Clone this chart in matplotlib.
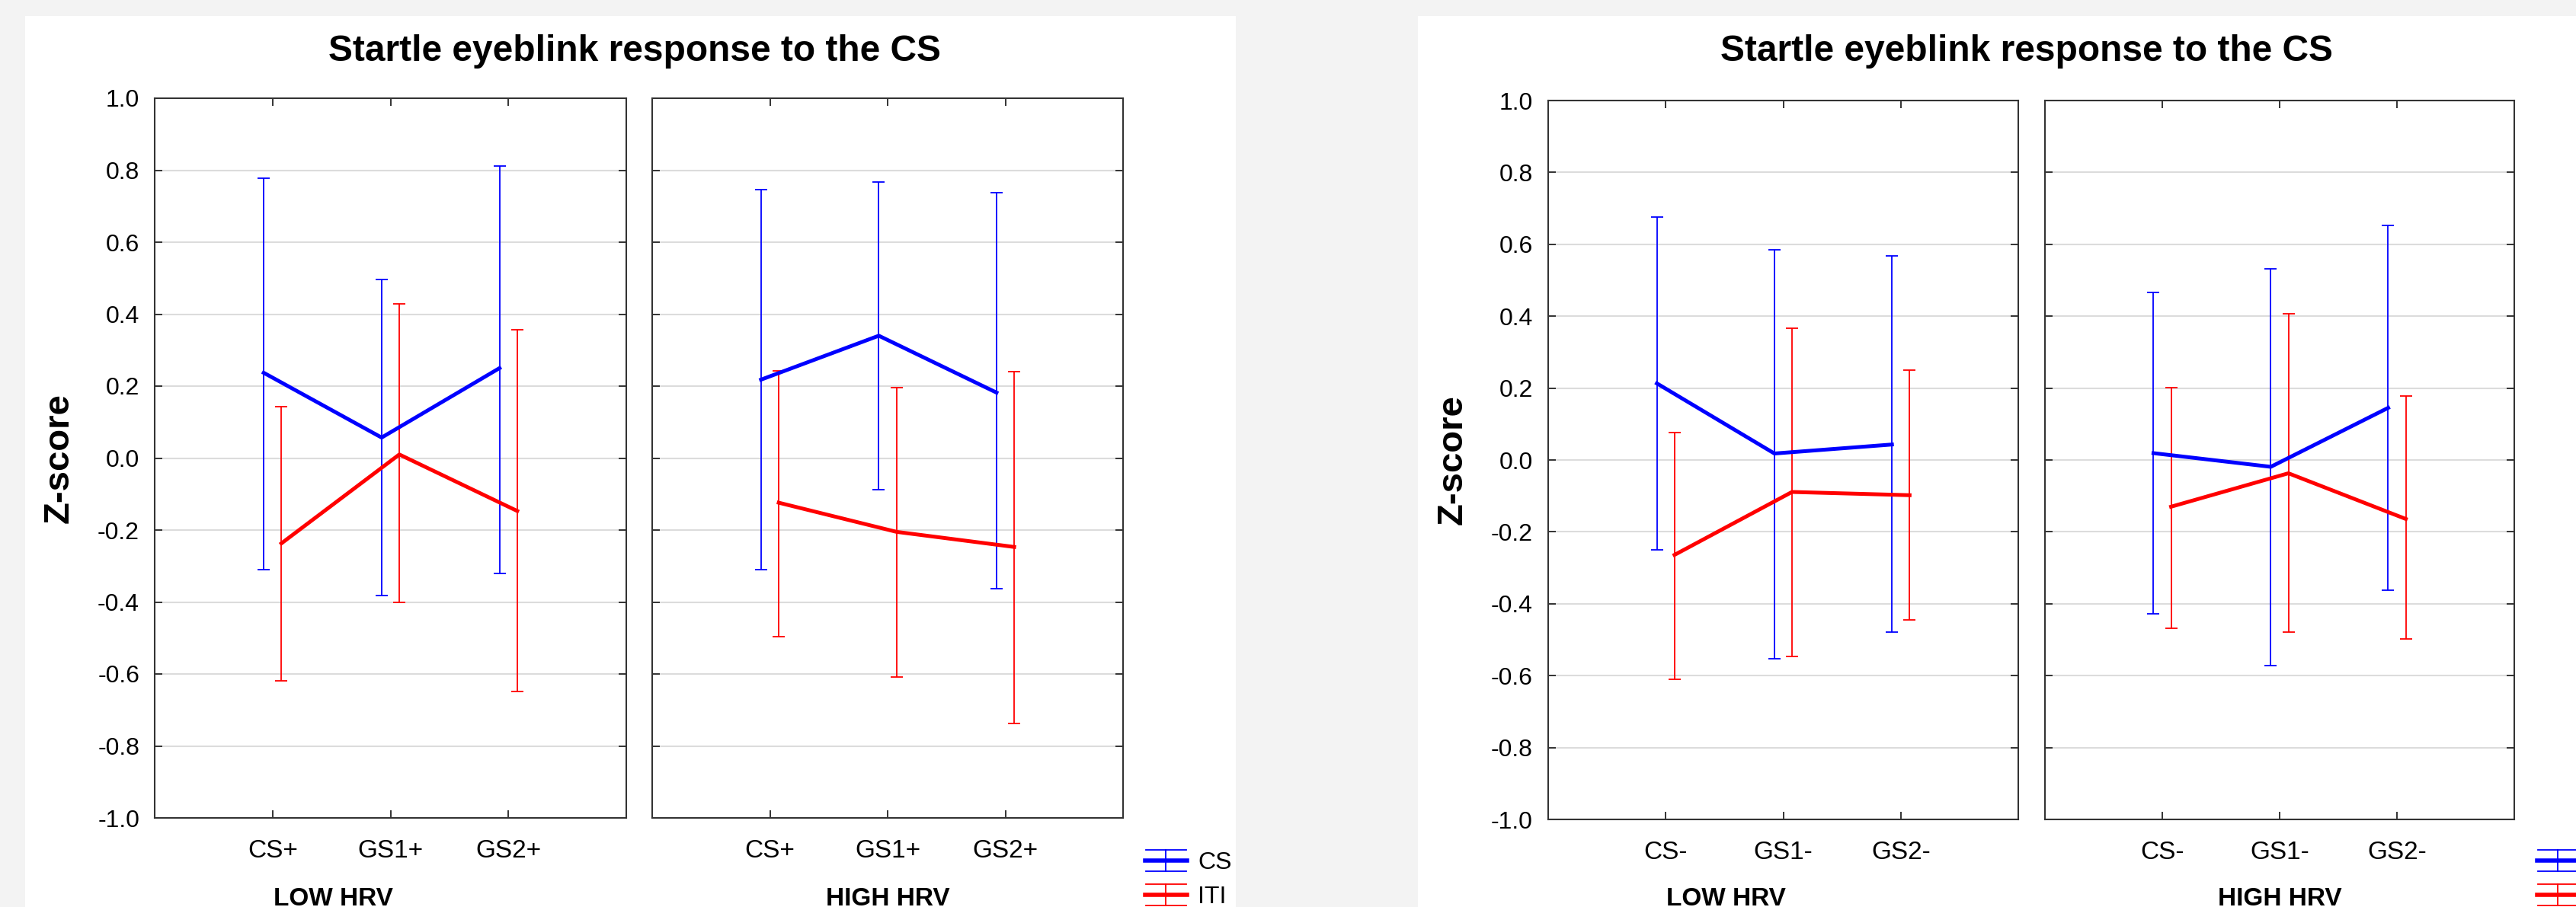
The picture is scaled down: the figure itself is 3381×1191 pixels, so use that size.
import numpy as np
import matplotlib
matplotlib.use("Agg")
import matplotlib.pyplot as plt
from matplotlib.lines import Line2D
from matplotlib.patches import Rectangle
from matplotlib.legend_handler import HandlerBase
from matplotlib.ticker import FormatStrFormatter

plt.rcParams['font.family'] = ['Liberation Sans', 'DejaVu Sans']
plt.rcParams['axes.unicode_minus'] = False

title = "Startle eyeblink response to the CS"
groups = ["LOW HRV", "HIGH HRV"]
series = ["CS", "ITI"]
cats_plus = ["CS+", "GS1+", "GS2+"]
cats_minus = ["CS-", "GS1-", "GS2-"]
y_ticks = [-1.0, -0.8, -0.6, -0.4, -0.2, 0.0, 0.2, 0.4, 0.6, 0.8, 1.0]

# rows = LOW HRV, HIGH HRV ; columns = categories
plus_cs_mean = [[0.237, 0.057, 0.250], [0.218, 0.340, 0.182]]
plus_cs_low = [[-0.309, -0.383, -0.320], [-0.309, -0.088, -0.362]]
plus_cs_high = [[0.778, 0.496, 0.812], [0.745, 0.767, 0.737]]
plus_iti_mean = [[-0.237, 0.010, -0.147], [-0.124, -0.205, -0.247]]
plus_iti_low = [[-0.618, -0.402, -0.648], [-0.497, -0.608, -0.737]]
plus_iti_high = [[0.142, 0.428, 0.357], [0.243, 0.195, 0.240]]

minus_cs_mean = [[0.213, 0.018, 0.043], [0.019, -0.019, 0.145]]
minus_cs_low = [[-0.250, -0.554, -0.478], [-0.428, -0.572, -0.362]]
minus_cs_high = [[0.675, 0.585, 0.567], [0.467, 0.531, 0.652]]
minus_iti_mean = [[-0.264, -0.089, -0.098], [-0.130, -0.037, -0.164]]
minus_iti_low = [[-0.610, -0.546, -0.444], [-0.469, -0.478, -0.498]]
minus_iti_high = [[0.077, 0.367, 0.251], [0.201, 0.407, 0.179]]

W, H = 3381, 1191


def rect(x0, y0, x1, y1):
    # pixel box (top-left origin) -> figure fraction
    return [x0 / W, 1 - y1 / H, (x1 - x0) / W, (y1 - y0) / H]


class ErrbarHandler(HandlerBase):
    def create_artists(self, legend, orig_handle, xdescent, ydescent,
                       width, height, fontsize, trans):
        c = orig_handle.get_color()
        x0, x1 = -xdescent, -xdescent + width
        yb, yt = -ydescent, -ydescent + height
        ym = (yb + yt) / 2
        xm = (x0 + x1) / 2
        arts = [Line2D([x0 + 1, x1 - 1], [yt, yt], color=c, lw=1.3),
                Line2D([x0 + 1, x1 - 1], [yb, yb], color=c, lw=1.3),
                Line2D([xm, xm], [yb, yt], color=c, lw=1.3),
                Line2D([x0, x1], [ym, ym], color=c, lw=4.0)]
        for a in arts:
            a.set_transform(trans)
        return arts


fig = plt.figure(figsize=(W / 100, H / 100), dpi=100, facecolor='#f3f3f3')

halves = [
    dict(cats=cats_plus, white=(33, 1622),
         axes=[(203, 129, 822, 1074), (856, 129, 1474, 1074)],
         cs=(plus_cs_mean, plus_cs_low, plus_cs_high),
         iti=(plus_iti_mean, plus_iti_low, plus_iti_high),
         title_x=833, ylab_x=78, leg_x=1503),
    dict(cats=cats_minus, white=(1861, 3400),
         axes=[(2032, 132, 2649, 1076), (2684, 132, 3300, 1076)],
         cs=(minus_cs_mean, minus_cs_low, minus_cs_high),
         iti=(minus_iti_mean, minus_iti_low, minus_iti_high),
         title_x=2660, ylab_x=1907, leg_x=3330),
]

for half in halves:
    wx0, wx1 = half['white']
    fig.patches.append(Rectangle((wx0 / W, 0), (wx1 - wx0) / W, 1 - 21 / H,
                                 transform=fig.transFigure, facecolor='white',
                                 edgecolor='none', zorder=-5))

    for g, box in enumerate(half['axes']):
        ax = fig.add_axes(rect(*box))
        x = np.arange(1, 4)
        styles = [(half['cs'], '#0000ff', -0.075), (half['iti'], '#ff0000', 0.075)]
        for (mean, lo, hi), color, dx in styles:
            m = np.array(mean[g])
            yerr = [m - np.array(lo[g]), np.array(hi[g]) - m]
            ax.errorbar(x + dx, m, yerr=yerr, fmt='none', ecolor=color,
                        elinewidth=1.3, capsize=5.8, capthick=1.3, zorder=3)
        for (mean, lo, hi), color, dx in styles:
            ax.plot(x + dx, mean[g], color=color, lw=3.6, zorder=4)

        ax.set_xlim(0, 4)
        ax.set_ylim(-1.0, 1.0)
        ax.set_xticks(x)
        ax.set_xticklabels(half['cats'])
        ax.set_yticks(y_ticks)
        ax.yaxis.set_major_formatter(FormatStrFormatter('%.1f'))
        ax.grid(axis='y', color='#dcdcdc', lw=1.5)
        ax.set_axisbelow(True)
        ax.tick_params(direction='in', top=True, right=True, length=7,
                       width=1.4, color='#333333')
        ax.tick_params(axis='x', labelsize=24, pad=20)
        ax.tick_params(axis='y', labelsize=23, pad=14.4)
        if g == 1:
            ax.tick_params(axis='y', labelleft=False)
        for s in ax.spines.values():
            s.set_color('#333333')
            s.set_linewidth(1.5)

        cx = (box[0] + box[2]) / 2 - (75 if g == 0 else 0)
        fig.text(cx / W, 1 - 1189 / H, groups[g], ha='center', va='baseline',
                 fontsize=24, fontweight='bold')

    fig.text(half['title_x'] / W, 1 - 80 / H, title, ha='center', va='baseline',
             fontsize=34.5, fontweight='bold')
    ytop, ybot = half['axes'][0][1], half['axes'][0][3]
    fig.text(half['ylab_x'] / W, 1 - (ytop + ybot) / 2 / H, "Z-score",
             rotation=90, ha='center', va='center', fontsize=34, fontweight='bold')

    proxies = [Line2D([], [], color='#0000ff'), Line2D([], [], color='#ff0000')]
    fig.legend(handles=proxies, labels=series,
               handler_map={p: ErrbarHandler() for p in proxies},
               loc='upper left', bbox_to_anchor=(half['leg_x'] / W, 1 - 1116 / H),
               frameon=False, fontsize=23, handlelength=1.72, handleheight=0.97,
               handletextpad=0.44, labelspacing=0.41, borderpad=0, borderaxespad=0)

fig.savefig('out.png', dpi=100, facecolor=fig.get_facecolor())
